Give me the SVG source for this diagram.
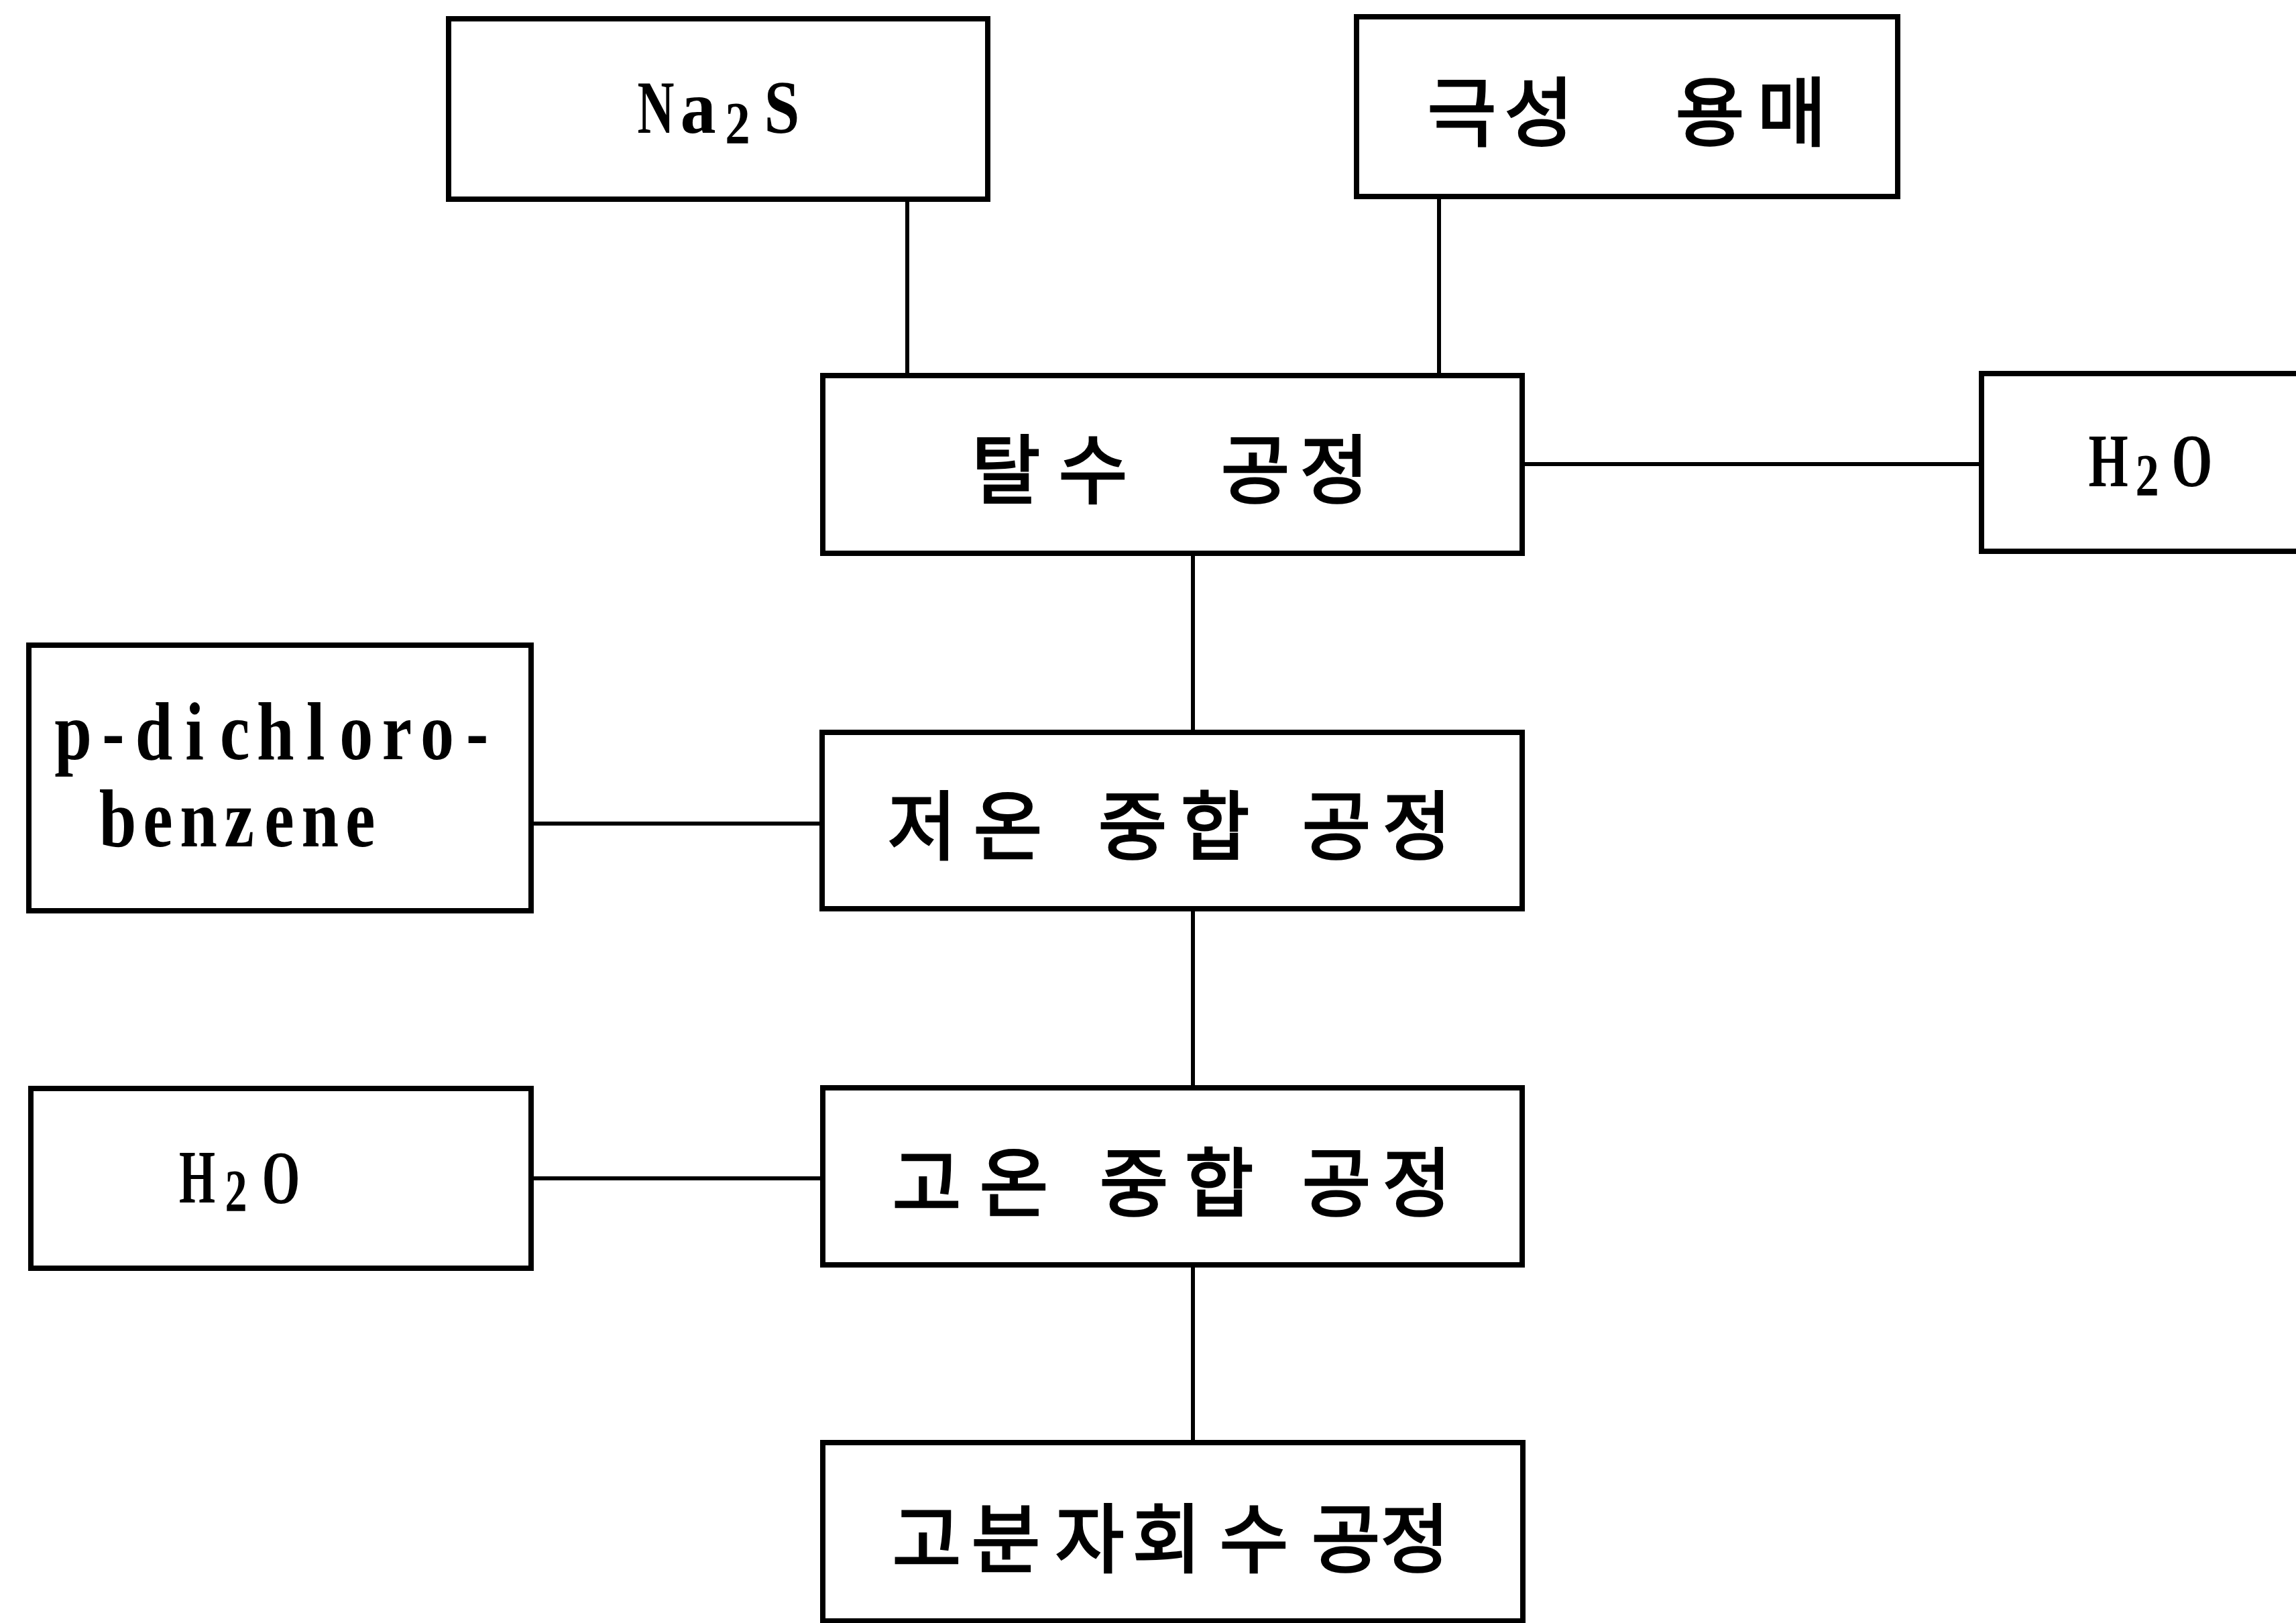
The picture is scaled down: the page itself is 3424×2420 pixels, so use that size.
<svg xmlns="http://www.w3.org/2000/svg" width="3424" height="2420" viewBox="0 0 3424 2420">
<style>
.box{fill:#fff;stroke:#000;stroke-width:8}
.conn line{stroke:#000;stroke-width:6}
.ko{font-family:"Noto Sans CJK KR","Noto Sans",sans-serif;font-size:112px;fill:#000;stroke:#000;stroke-width:3;text-anchor:middle;dominant-baseline:central}
.la{font-family:"Liberation Serif","DejaVu Serif",serif;font-weight:bold;font-size:112px;fill:#000;text-anchor:middle}
.lo{font-size:122px}
.sub{font-size:88px}
</style>
<rect width="3424" height="2420" fill="#fff"/>
<g class="conn" id="connectors">
<line x1="1353" y1="297" x2="1353" y2="560"/>
<line x1="2146" y1="293" x2="2146" y2="560"/>
<line x1="2270" y1="692" x2="2955" y2="692"/>
<line x1="1779" y1="825" x2="1779" y2="1092"/>
<line x1="792" y1="1228" x2="1226" y2="1228"/>
<line x1="1779" y1="1355" x2="1779" y2="1622"/>
<line x1="792" y1="1757" x2="1227" y2="1757"/>
<line x1="1779" y1="1886" x2="1779" y2="2151"/>
</g>
<g id="na2s">
<rect class="box" x="669" y="28" width="804" height="269"/>
<text class="la" transform="translate(978,198) scale(0.68,1)">N</text>
<text class="la" transform="translate(1041,198) scale(0.95,1)">a</text>
<text class="la sub" transform="translate(1100,213) scale(0.85,1)">2</text>
<text class="la" transform="translate(1166,198) scale(0.85,1)">S</text>
</g>
<g id="polar-solvent">
<rect class="box" x="2023" y="25" width="807" height="268"/>
<text class="ko" x="2180 2295 2420 2550 2672" y="160">극성 용매</text>
</g>
<g id="dehydration">
<rect class="box" x="1227" y="560" width="1043" height="265"/>
<text class="ko" x="1500 1630 1750 1872 1990" y="693">탈수 공정</text>
</g>
<g id="h2o-right">
<rect class="box" x="2955" y="557" width="520" height="265"/>
<text class="la" transform="translate(3144,725) scale(0.68,1)">H</text>
<text class="la sub" transform="translate(3202,738) scale(0.8,1)">2</text>
<text class="la" transform="translate(3269,725) scale(0.7,1)">O</text>
</g>
<g id="p-dichlorobenzene">
<rect class="box" x="43" y="962" width="749" height="396"/>
<g transform="scale(0.82,1)">
<text class="la lo" x="133 206 280 354 427 501 574 648 722 795 868" y="1132">p-dichloro-</text>
<text class="la lo" x="214 287 361 435 508 582 655" y="1262">benzene</text>
</g>
</g>
<g id="low-temp-polymerization">
<rect class="box" x="1226" y="1092" width="1044" height="263"/>
<text class="ko" x="1375 1503 1596 1689 1812 1900 1993 2113" y="1224">저온 중합 공정</text>
</g>
<g id="h2o-left">
<rect class="box" x="46" y="1623" width="746" height="268"/>
<text class="la" transform="translate(294,1793) scale(0.62,1)">H</text>
<text class="la sub" transform="translate(352,1805) scale(0.75,1)">2</text>
<text class="la" transform="translate(419,1794) scale(0.65,1)">O</text>
</g>
<g id="high-temp-polymerization">
<rect class="box" x="1227" y="1622" width="1043" height="264"/>
<text class="ko" x="1382 1512 1600 1691 1818 1905 1993 2113" y="1756">고온 중합 공정</text>
</g>
<g id="polymer-recovery">
<rect class="box" x="1227" y="2151" width="1044" height="266"/>
<text class="ko" x="1382 1500 1625 1740 1870 2007 2110" y="2287">고분자회수공정</text>
</g>
</svg>
